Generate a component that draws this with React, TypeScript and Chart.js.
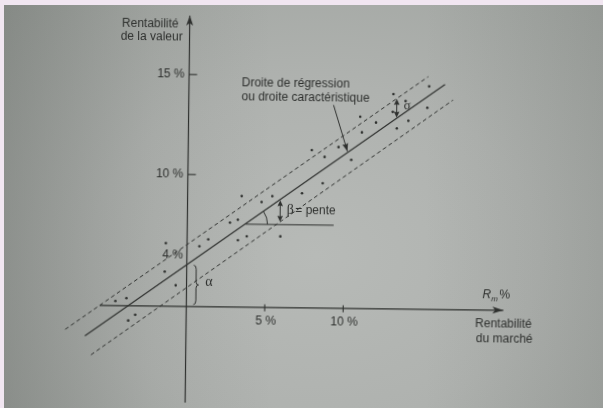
import React, { useEffect, useRef } from "react";
import { Chart, registerables } from "chart.js";

Chart.register(...registerables);

// ---- Observations (market return %, security return %) ----
const marketReturns = [
  -4.52, -3.82, -3.69, -3.25, -1.4, -1.35, -0.69, 0.79, 1.35, 2.72, 3.22,
  3.24, 3.8, 5.94, 3.45, 4.72, 5.4, 7.29, 8.6, 8.7, 7.88, 9.58, 10.4, 10.94,
  11.95, 11.06, 13.01, 13.04, 13.82, 14.01, 13.28, 15.21, 15.31,
];
const securityReturns = [
  3.63, 3.78, 2.66, 2.95, 5.13, 6.55, 4.45, 6.42, 6.77, 7.62, 7.77, 6.74,
  6.94, 6.96, 8.95, 8.67, 8.97, 9.13, 9.64, 10.96, 11.29, 11.46, 10.83, 12.99,
  12.71, 12.21, 13.25, 14.14, 13.8, 12.82, 12.43, 13.48, 14.55,
];

// ---- Lines ----
const regressionX = [-6.44, 16.32];
const regressionY = [1.87, 14.66];
const upperBandX = [-7.7, 15.25];
const upperBandY = [2.18, 15.04];
const lowerBandX = [-6.04, 16.84];
const lowerBandY = [0.92, 13.88];

// ---- Axes ----
const axisBaseY = 3.4; // level at which the market axis is drawn
const xAxisRange = [-5.52, 20.21];
const yAxisRange = [-1.6, 17.94];
const yTickValues = [10, 15];
const yTickLabels = ["10 %", "15 %"];
const xTickValues = [5, 10];
const xTickLabels = ["5 %", "10 %"];

// ---- Annotations (data coordinates) ----
const slopeLineX = [3.71, 9.33];
const slopeLineY = 7.55;
const sigmaX = 13.26;
const sigmaY = [12.97, 13.9];
const betaX = 5.91;
const betaY = [7.69, 8.77];
const calloutFrom = [9.23, 13.56];
const calloutTo = [10.15, 11.25];

const yTitle = ["Rentabilité", "de la valeur"];
const xTitle = ["Rentabilité", "du marché"];
const regressionTitle = ["Droite de régression", "ou droite caractéristique"];
const interceptLabel = "4 %";

const SANS = '"Liberation Sans", Arial, Helvetica, sans-serif';
const SERIF = '"Liberation Serif", "Times New Roman", serif';
const INK = "#2e302e";

function arrowHead(ctx: CanvasRenderingContext2D, tx: number, ty: number, ang: number, len: number, half: number, inset = 0.25) {
  ctx.save();
  ctx.translate(tx, ty);
  ctx.rotate(ang);
  ctx.beginPath();
  ctx.moveTo(0, 0);
  ctx.lineTo(-len, -half);
  ctx.lineTo(-len * (1 - inset), 0);
  ctx.lineTo(-len, half);
  ctx.closePath();
  ctx.fill();
  ctx.restore();
}

function seg(ctx: CanvasRenderingContext2D, x1: number, y1: number, x2: number, y2: number) {
  ctx.beginPath();
  ctx.moveTo(x1, y1);
  ctx.lineTo(x2, y2);
  ctx.stroke();
}

const schemaPlugin = {
  id: "schema",
  afterDatasetsDraw(chart: any) {
    const ctx: CanvasRenderingContext2D = chart.ctx;
    const xs = chart.scales.x;
    const ys = chart.scales.y;
    const px = (v: number) => xs.getPixelForValue(v);
    const py = (v: number) => ys.getPixelForValue(v);
    ctx.save();
    ctx.strokeStyle = INK;
    ctx.fillStyle = INK;
    ctx.lineWidth = 1.1;
    ctx.textBaseline = "middle";

    const ox = px(0);
    const oy = py(axisBaseY);

    // axis arrowheads
    arrowHead(ctx, ox, py(yAxisRange[1]), -Math.PI / 2, 10, 3.5);
    arrowHead(ctx, px(xAxisRange[1]), oy, 0, 11, 3.5);

    // ticks + labels
    ctx.font = `12px ${SANS}`;
    ctx.textAlign = "right";
    yTickValues.forEach((v, i) => {
      seg(ctx, ox, py(v), ox + 8, py(v));
      ctx.fillText(yTickLabels[i], ox - 4.5, py(v));
    });
    ctx.textAlign = "center";
    xTickValues.forEach((v, i) => {
      seg(ctx, px(v), oy - 3, px(v), oy + 4);
      ctx.fillText(xTickLabels[i], px(v) + 1, oy + 14);
    });

    // axis titles
    ctx.textAlign = "center";
    ctx.fillText(yTitle[0], px(-2.51), py(17.52));
    ctx.fillText(yTitle[1], px(-2.51) + 1.5, py(17.52) + 13.3);
    ctx.fillText(xTitle[0], px(20.23), py(2.7));
    ctx.fillText(xTitle[1], px(20.23) + 1, py(2.7) + 15);

    // R_m %
    ctx.textAlign = "left";
    const rx = px(18.87);
    const ry = py(4.16);
    ctx.font = `italic 12px ${SANS}`;
    ctx.fillText("R", rx, ry);
    const rw = ctx.measureText("R").width;
    ctx.font = `italic 8px ${SANS}`;
    ctx.fillText("m", rx + rw, ry + 4);
    const mw = ctx.measureText("m").width;
    ctx.font = `12px ${SANS}`;
    ctx.fillText("%", rx + rw + mw + 1.5, ry);

    // regression line title + callout arrow
    ctx.textAlign = "left";
    ctx.fillText(regressionTitle[0], px(3.36), py(14.59));
    ctx.fillText(regressionTitle[1], px(3.36), py(14.59) + 13.4);
    const cx1 = px(calloutFrom[0]);
    const cy1 = py(calloutFrom[1]);
    const cx2 = px(calloutTo[0]);
    const cy2 = py(calloutTo[1]);
    ctx.lineWidth = 1;
    seg(ctx, cx1, cy1, cx2, cy2);
    arrowHead(ctx, cx2, cy2, Math.atan2(cy2 - cy1, cx2 - cx1), 8, 3, 0.15);

    // intercept label
    ctx.textAlign = "right";
    ctx.fillText(interceptLabel, px(-0.25), py(5.94));

    // alpha brace
    const slope = (regressionY[1] - regressionY[0]) / (regressionX[1] - regressionX[0]);
    const intercept = regressionY[0] - slope * regressionX[0];
    const bTop = py(intercept) + 0.5;
    const bBot = oy - 2;
    const bMid = (bTop + bBot) / 2;
    const bx = ox + 7;
    ctx.lineWidth = 1;
    ctx.beginPath();
    ctx.moveTo(bx, bTop);
    ctx.quadraticCurveTo(bx + 2.5, bTop, bx + 2.5, bTop + 4);
    ctx.lineTo(bx + 2.5, bMid - 3);
    ctx.quadraticCurveTo(bx + 2.5, bMid, bx + 5, bMid);
    ctx.quadraticCurveTo(bx + 2.5, bMid, bx + 2.5, bMid + 3);
    ctx.lineTo(bx + 2.5, bBot - 4);
    ctx.quadraticCurveTo(bx + 2.5, bBot, bx, bBot);
    ctx.stroke();
    ctx.textAlign = "left";
    ctx.font = `14px ${SERIF}`;
    ctx.fillText("α", px(1.19), py(4.65));

    // slope angle arc
    const ax = px(slopeLineX[0]);
    const ay = py(slopeLineY);
    const ang = Math.atan2(py(regressionY[1]) - py(regressionY[0]), px(regressionX[1]) - px(regressionX[0]));
    ctx.beginPath();
    ctx.arc(ax, ay, 22, ang, 0);
    ctx.stroke();

    // beta double arrow
    const bxp = px(betaX);
    seg(ctx, bxp, py(betaY[0]) - 3, bxp, py(betaY[1]) + 3);
    arrowHead(ctx, bxp, py(betaY[1]), -Math.PI / 2, 6, 2.8, 0.1);
    arrowHead(ctx, bxp, py(betaY[0]), Math.PI / 2, 6, 2.8, 0.1);
    ctx.font = `14px ${SERIF}`;
    ctx.fillText("β", px(6.32), py(8.28));
    const bw = ctx.measureText("β").width;
    ctx.font = `12px ${SANS}`;
    ctx.fillText("= pente", px(6.32) + bw + 1.5, py(8.28));

    // sigma double arrow
    const sxp = px(sigmaX);
    seg(ctx, sxp, py(sigmaY[0]) - 3, sxp, py(sigmaY[1]) + 3);
    arrowHead(ctx, sxp, py(sigmaY[1]), -Math.PI / 2, 6, 2.8, 0.1);
    arrowHead(ctx, sxp, py(sigmaY[0]), Math.PI / 2, 6, 2.8, 0.1);
    ctx.font = `13px ${SERIF}`;
    ctx.fillText("σ", px(13.7), py(13.54));

    ctx.restore();
  },
};

function pts(xs: number[], ys: number[]) {
  return xs.map((x, i) => ({ x, y: ys[i] }));
}

export default function App() {
  const ref = useRef<HTMLCanvasElement>(null);

  useEffect(() => {
    if (!ref.current) return;
    const lineDs = (data: any[], width: number, dash: number[] = []) => ({
      type: "line" as const,
      data,
      showLine: true,
      borderColor: INK,
      borderWidth: width,
      borderDash: dash,
      pointRadius: 0,
      fill: false,
      tension: 0,
    });
    const chart = new Chart(ref.current, {
      type: "scatter",
      data: {
        datasets: [
          lineDs([{ x: 0, y: yAxisRange[0] }, { x: 0, y: yAxisRange[1] }], 1.2),
          lineDs([{ x: xAxisRange[0], y: axisBaseY }, { x: xAxisRange[1], y: axisBaseY }], 1.2),
          lineDs(pts(regressionX, regressionY), 1.2),
          lineDs(pts(upperBandX, upperBandY), 1, [4, 3]),
          lineDs(pts(lowerBandX, lowerBandY), 1, [4, 3]),
          lineDs([{ x: slopeLineX[0], y: slopeLineY }, { x: slopeLineX[1], y: slopeLineY }], 1),
          {
            type: "scatter" as const,
            data: pts(marketReturns, securityReturns),
            pointRadius: 1.3,
            pointBackgroundColor: INK,
            pointBorderWidth: 0,
            borderWidth: 0,
          },
        ] as any,
      },
      options: {
        animation: false,
        responsive: false,
        events: [],
        layout: { padding: 0 },
        plugins: { legend: { display: false }, tooltip: { enabled: false }, title: { display: false } },
        scales: {
          x: { type: "linear", min: -11.698, max: 26.226, display: false },
          y: { type: "linear", min: -1.407, max: 18.593, display: false },
        },
      },
      plugins: [schemaPlugin],
    });
    return () => chart.destroy();
  }, []);

  return (
    <div style={{ position: "fixed", left: 0, top: 0, width: 603, height: 408, overflow: "hidden", background: "#f1e6f1" }}>
      <div
        style={{
          position: "absolute",
          left: 4,
          top: 5,
          right: 0,
          bottom: 0,
          background:
            "linear-gradient(to right, rgba(40,45,40,0.22) 0%, rgba(40,45,40,0.06) 25%, rgba(0,0,0,0) 45%, rgba(0,0,0,0) 70%, rgba(40,45,40,0.1) 100%), radial-gradient(ellipse 75% 85% at 52% 62%, #b7bab7 0%, #afb2af 50%, #a0a4a0 100%)",
        }}
      />
      <canvas
        ref={ref}
        width={603}
        height={408}
        style={{ position: "absolute", left: 0, top: 0, width: 603, height: 408, transform: "rotate(0.7deg)", transformOrigin: "50% 50%" }}
      />
    </div>
  );
}
